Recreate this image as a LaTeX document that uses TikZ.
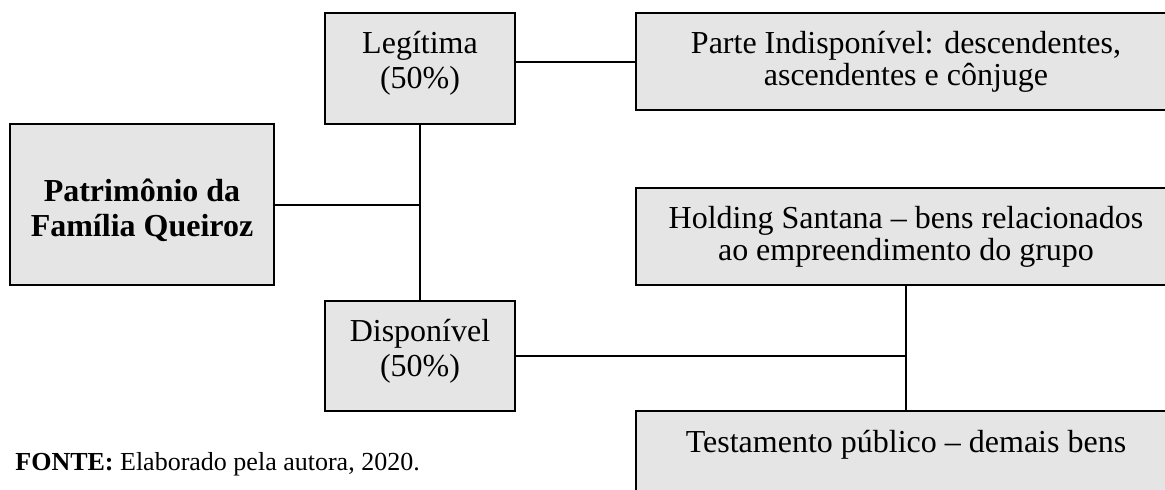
\documentclass[tikz,border=0pt]{standalone}
\usepackage{fontspec}
\setmainfont{Liberation Serif}
\usepackage{tikz}

\begin{document}
\begin{tikzpicture}[x=0.5pt,y=-0.5pt,
  box/.style={draw,line width=1pt,fill=gray!20,minimum width=#1,inner sep=0pt},
  lbl/.style={align=center,anchor=base,font=\fontsize{16}{16}\selectfont,inner sep=0pt},
  lbltall/.style={lbl,font=\fontsize{16}{17.5}\selectfont}]
  \useasboundingbox (0,0) rectangle (1165,489);
  % boxes (sizes in pt, half the pixel size)
  \node[box=132,minimum height=80.5pt] (pat) at (142,204.5) {};
  \node[box=95,minimum height=55.5pt] (leg) at (420,68.5) {};
  \node[box=95,minimum height=55pt] (disp) at (420,356) {};
  \node[box=270,minimum height=48.5pt] (parte) at (906,61.5) {};
  \node[box=270,minimum height=48.5pt] (hold) at (906,236.5) {};
  \node[box=270,minimum height=45pt] (test) at (906,456) {};
  % connectors
  \draw[line width=1pt] (leg) -- (disp) (pat) -- (pat -| leg.south);
  \draw[line width=1pt] (parte.west -| leg.east) -- (parte) (hold) -- (test) (disp) -- (disp -| hold.south);
  % texts, anchored at the baseline of the last line
  \node[lbltall,font={\fontsize{16}{17.5}\bfseries\selectfont}] (patT) at (142,236) {Patrimônio da\\Família Queiroz};
  \node[lbltall] (legT) at (420,88) {Legítima\\(50\%)};
  \node[lbltall] (dispT) at (420,376) {Disponível\\(50\%)};
  \node[lbl] (parteT) at (906,85) {Parte Indisponível: descendentes,\\ascendentes e cônjuge};
  \node[lbl] (holdT) at (906,260) {Holding Santana – bens relacionados\\ao empreendimento do grupo};
  \node[lbl] (testT) at (906,452) {Testamento público – demais bens};
  \node[anchor=base west,inner sep=0pt,font=\fontsize{13}{15}\selectfont] (fonte) at (15,470) {\textbf{FONTE:} Elaborado pela autora, 2020.};
\end{tikzpicture}
\end{document}
